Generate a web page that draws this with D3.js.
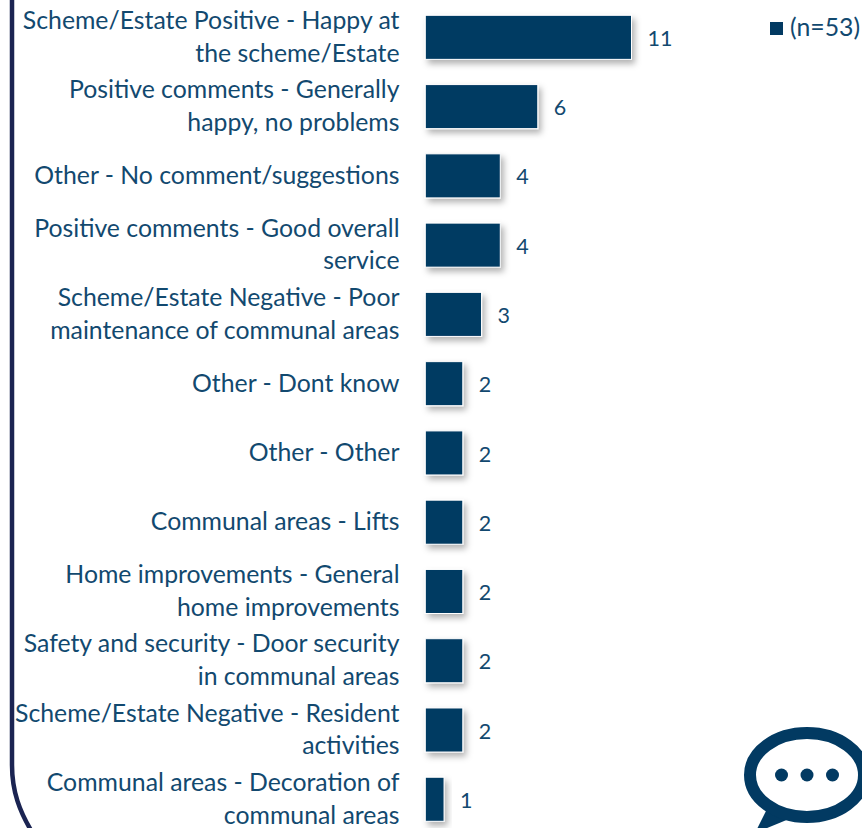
<!DOCTYPE html>
<html>
<head>
<meta charset="utf-8">
<script src="https://cdn.jsdelivr.net/npm/d3@7"></script>
<style>
  html, body { margin: 0; padding: 0; background: #fff; overflow: hidden; }
  text { font-family: Lato, "Open Sans", sans-serif; }
</style>
</head>
<body>
<svg id="chart"></svg>
<script>
// labels already wrapped the way the chart wraps them
const categories = [
    ["Scheme/Estate Positive - Happy at", "the scheme/Estate"],
    ["Positive comments - Generally", "happy, no problems"],
    ["Other - No comment/suggestions"],
    ["Positive comments - Good overall", "service"],
    ["Scheme/Estate Negative - Poor", "maintenance of communal areas"],
    ["Other - Dont know"],
    ["Other - Other"],
    ["Communal areas - Lifts"],
    ["Home improvements - General", "home improvements"],
    ["Safety and security - Door security", "in communal areas"],
    ["Scheme/Estate Negative - Resident", "activities"],
    ["Communal areas - Decoration of", "communal areas"]
];
const values = [11, 6, 4, 4, 3, 2, 2, 2, 2, 2, 2, 1];
const legendLabel = "(n=53)";

const width = 862;
const height = 828;
const navy = "#023a62";
const textColor = "#12496f";
const frameColor = "#1b2452";

const svg = d3.select("#chart")
    .attr("width", width)
    .attr("height", height)
    .style("display", "block");

// ombre portée des barres
const shadow = svg.append("defs").append("filter")
    .attr("id", "barShadow")
    .attr("x", "-20%").attr("y", "-20%")
    .attr("width", "160%").attr("height", "160%");
shadow.append("feDropShadow")
    .attr("dx", 3).attr("dy", 4)
    .attr("stdDeviation", 3)
    .attr("flood-color", "#000")
    .attr("flood-opacity", 0.3);

const x = d3.scaleLinear().domain([0, 11]).range([425.3, 631.5]);
const y = d3.scaleBand()
    .domain(d3.range(categories.length))
    .range([15.3 - 12.6, 821.3 + 12.6])
    .paddingInner(0.364)
    .paddingOuter(0.182);

// left frame of the slide panel
svg.append("path")
    .attr("d", "M12,0 L12,765 C12,792 20,812 32,832")
    .attr("fill", "none")
    .attr("stroke", frameColor)
    .attr("stroke-width", 4.5);

// bars
svg.selectAll("rect.bar")
    .data(values)
    .enter()
    .append("rect")
    .attr("class", "bar")
    .attr("x", x(0))
    .attr("y", (d, i) => y(i))
    .attr("width", d => x(d) - x(0))
    .attr("height", y.bandwidth())
    .attr("fill", navy)
    .attr("stroke", "#fff")
    .attr("stroke-width", 1)
    .attr("filter", "url(#barShadow)");

// value labels
svg.selectAll("text.value")
    .data(values)
    .enter()
    .append("text")
    .attr("class", "value")
    .attr("x", d => x(d) + 16)
    .attr("y", (d, i) => y(i) + y.bandwidth() / 2 + 8.6)
    .attr("font-size", 21.5)
    .attr("fill", textColor)
    .text(d => d);

// category labels
const labels = svg.selectAll("text.cat")
    .data(categories)
    .enter()
    .append("text")
    .attr("class", "cat")
    .attr("text-anchor", "end")
    .attr("font-size", 24.8)
    .attr("fill", textColor);

labels.selectAll("tspan")
    .data((d, i) => d.map((line, k) => ({line, k, n: d.length, i})))
    .enter()
    .append("tspan")
    .attr("x", 399.5)
    .attr("y", d => y(d.i) + y.bandwidth() / 2 + 8 + (d.k - (d.n - 1) / 2) * 32.5)
    .text(d => d.line);

// legend
svg.append("rect")
    .attr("x", 770).attr("y", 22)
    .attr("width", 13).attr("height", 13)
    .attr("fill", navy);
svg.append("text")
    .attr("x", 790).attr("y", 36)
    .attr("font-size", 24.8)
    .attr("fill", textColor)
    .text(legendLabel);

// speech bubble icon
const icon = svg.append("g").attr("transform", "translate(807,775)");
icon.append("path")
    .attr("d", "M-40,34 L-52,58 L-18,44 Z")
    .attr("fill", navy);
icon.append("ellipse")
    .attr("rx", 57).attr("ry", 42)
    .attr("fill", "#fff")
    .attr("stroke", navy)
    .attr("stroke-width", 12);
icon.selectAll("circle")
    .data([-25.5, 0, 25.5])
    .enter()
    .append("circle")
    .attr("cx", d => d)
    .attr("r", 6.5)
    .attr("fill", navy);
</script>
</body>
</html>
